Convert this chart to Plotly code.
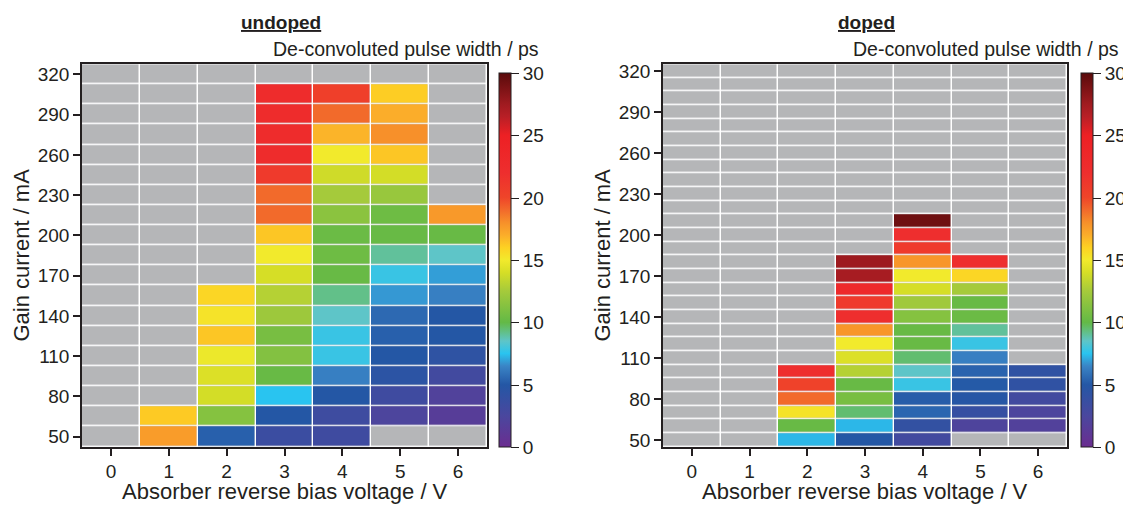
import plotly.graph_objects as go

# The page body has an 8 px margin, so the figure is drawn 8 px in and sized to fit.
OX, OY = 8, 8
W, H = 1131 - OX, 507 - OY

voltages = [0, 1, 2, 3, 4, 5, 6]
x_ticks = [0, 1, 2, 3, 4, 5, 6]
y_ticks = [50, 80, 110, 140, 170, 200, 230, 260, 290, 320]
cbar_ticks = [0, 5, 10, 15, 20, 25, 30]

# ---- undoped: gain current rows (mA), bottom to top ----
currents_undoped = [50, 65, 80, 95, 110, 125, 140, 155, 170, 185, 200, 215, 230, 245, 260, 275, 290, 305, 320]
N = None
undoped_0V = [N] * 19
undoped_1V = [17.6, 16.2, N, N, N, N, N, N, N, N, N, N, N, N, N, N, N, N, N]
undoped_2V = [5.3, 11.3, 13.9, 14.2, 14.8, 16.3, 15.3, 15.8, N, N, N, N, N, N, N, N, N, N, N]
undoped_3V = [3.5, 5.0, 7.5, 10.2, 11.2, 10.8, 12.2, 13.0, 14.0, 15.0, 16.3, 19.0, 19.0, 21.0, 22.5, 22.5, 22.5, 22.5, N]
undoped_4V = [3.2, 3.3, 5.0, 6.3, 7.8, 7.8, 8.5, 9.2, 10.2, 10.4, 10.3, 11.5, 12.5, 13.8, 15.0, 16.8, 19.0, 20.5, N]
undoped_5V = [N, 2.3, 3.2, 4.5, 5.0, 5.3, 5.6, 6.8, 7.8, 9.0, 10.2, 10.4, 12.0, 13.9, 16.3, 18.0, 17.0, 16.1, N]
undoped_6V = [N, 1.5, 2.0, 3.0, 4.3, 5.0, 5.0, 6.3, 6.9, 8.5, 10.2, 17.7, N, N, N, N, N, N, N]

# ---- doped: gain current rows (mA), bottom to top ----
currents_doped = [50, 60, 70, 80, 90, 100, 110, 120, 130, 140, 150, 160, 170, 180, 190,
                  200, 210, 220, 230, 240, 250, 260, 270, 280, 290, 300, 310, 320]
doped_0V = [N] * 28
doped_1V = [N] * 28
doped_2V = [7.3, 10.2, 15.3, 19.0, 20.3, 22.0] + [N] * 22
doped_3V = [5.0, 7.3, 9.5, 10.8, 10.2, 13.0, 14.2, 15.0, 17.8, 22.0, 21.0, 23.0, 27.2, 27.6] + [N] * 14
doped_4V = [3.0, 4.0, 5.5, 5.2, 7.8, 8.5, 9.5, 10.2, 10.2, 11.3, 12.3, 14.0, 15.0, 17.8, 21.0, 22.0, 29.3] + [N] * 11
doped_5V = [N, 2.2, 3.8, 4.9, 5.1, 5.4, 6.3, 7.8, 9.0, 10.3, 10.2, 12.5, 15.8, 22.0] + [N] * 14
doped_6V = [N, 1.9, 2.3, 3.0, 4.2, 4.2] + [N] * 22

undoped_cols = [undoped_0V, undoped_1V, undoped_2V, undoped_3V, undoped_4V, undoped_5V, undoped_6V]
doped_cols = [doped_0V, doped_1V, doped_2V, doped_3V, doped_4V, doped_5V, doped_6V]


def to_rows(cols, n):
    return [[c[i] for c in cols] for i in range(n)]


z_undoped = to_rows(undoped_cols, len(currents_undoped))
z_doped = to_rows(doped_cols, len(currents_doped))

TXT = "#231f20"
GRAY = "#b5b6b8"
FONT = "Liberation Sans, Arial, sans-serif"


def px(x):
    return (x - OX) / W


def py(y):
    return 1 - (y - OY) / H


cs = [
    [0.0, "#6b2d90"], [2.5 / 30, "#4a479e"], [5 / 30, "#2457a5"], [6.5 / 30, "#3a85c6"],
    [7.5 / 30, "#29c4f0"], [8.5 / 30, "#5ec5c8"], [9.3 / 30, "#62bf80"], [10 / 30, "#63b946"],
    [12.5 / 30, "#a5ca3b"], [14 / 30, "#d6de26"], [15 / 30, "#f2ea2c"], [16 / 30, "#fdd123"],
    [17 / 30, "#fbad2a"], [18 / 30, "#f7902a"], [19 / 30, "#f26a2b"], [20 / 30, "#ef4529"],
    [22 / 30, "#ee2e2e"], [25 / 30, "#ed2024"], [26.5 / 30, "#b81f26"], [27.5 / 30, "#a01b20"],
    [1.0, "#5a0b0b"],
]

fig = go.Figure()

GAP = 1.5


def add_panel(z, ys, xa, ya, cbx):
    bg = [[0] * len(voltages) for _ in ys]
    fig.add_trace(go.Heatmap(x=voltages, y=ys, z=bg, colorscale=[[0, GRAY], [1, GRAY]],
                             showscale=False, xgap=GAP, ygap=GAP, hoverinfo="skip",
                             xaxis=xa, yaxis=ya))
    fig.add_trace(go.Heatmap(
        x=voltages, y=ys, z=z, colorscale=cs, zmin=0, zmax=30, xgap=GAP, ygap=GAP,
        xaxis=xa, yaxis=ya,
        colorbar=dict(
            x=px(cbx), xanchor="left", xpad=0, ypad=0, thickness=12, thicknessmode="pixels",
            len=374, lenmode="pixels", y=py(261), yanchor="middle",
            outlinewidth=1, outlinecolor=TXT, ticks="outside", ticklen=8, tickwidth=1.2,
            tickcolor=TXT, tickvals=cbar_ticks, tickfont=dict(size=19, color=TXT, family=FONT),
        ),
    ))


add_panel(z_undoped, currents_undoped, "x", "y", 499)
add_panel(z_doped, currents_doped, "x2", "y2", 1081)

ydom = [py(450), py(62)]
axis_common = dict(showgrid=False, zeroline=False, showline=True, linecolor=TXT, linewidth=1.5,
                   mirror=True, ticks="outside", ticklen=7, tickwidth=1.5, tickcolor=TXT,
                   tickfont=dict(size=19, color=TXT, family=FONT))

fig.update_layout(
    width=W, height=H, margin=dict(l=0, r=0, t=0, b=0),
    paper_bgcolor="white", plot_bgcolor="white",
    font=dict(family=FONT, color=TXT),
    xaxis=dict(domain=[px(82), px(487)], range=[-0.5, 6.5], tickvals=x_ticks, anchor="y", **axis_common),
    yaxis=dict(domain=ydom, range=[42.5, 327.5], tickvals=y_ticks, anchor="x", **axis_common),
    xaxis2=dict(domain=[px(663), px(1067)], range=[-0.5, 6.5], tickvals=x_ticks, anchor="y2", **axis_common),
    yaxis2=dict(domain=ydom, range=[45, 325], tickvals=y_ticks, anchor="x2", **axis_common),
)

ann = []
for cx, xt, yt, title, rt in [(281, 285, 22, "undoped", 541), (866, 865, 603, "doped", 1121)]:
    ann.append(dict(x=px(cx), y=py(20), xref="paper", yref="paper", text=f"<b><u>{title}</u></b>",
                    showarrow=False, xanchor="center", yanchor="middle",
                    font=dict(size=19, color=TXT, family=FONT)))
    ann.append(dict(x=px(rt), y=py(47), xref="paper", yref="paper",
                    text="De-convoluted pulse width / ps", showarrow=False, xanchor="right",
                    yanchor="middle", font=dict(size=19.5, color=TXT, family=FONT)))
    ann.append(dict(x=px(xt), y=py(495), xref="paper", yref="paper",
                    text="Absorber reverse bias voltage / V", showarrow=False, xanchor="center",
                    yanchor="middle", font=dict(size=22, color=TXT, family=FONT)))
    ann.append(dict(x=px(yt), y=py(256), xref="paper", yref="paper", text="Gain current / mA",
                    showarrow=False, textangle=-90, xanchor="center", yanchor="middle",
                    font=dict(size=22, color=TXT, family=FONT)))
fig.update_layout(annotations=ann)

fig.write_html("out.html")
